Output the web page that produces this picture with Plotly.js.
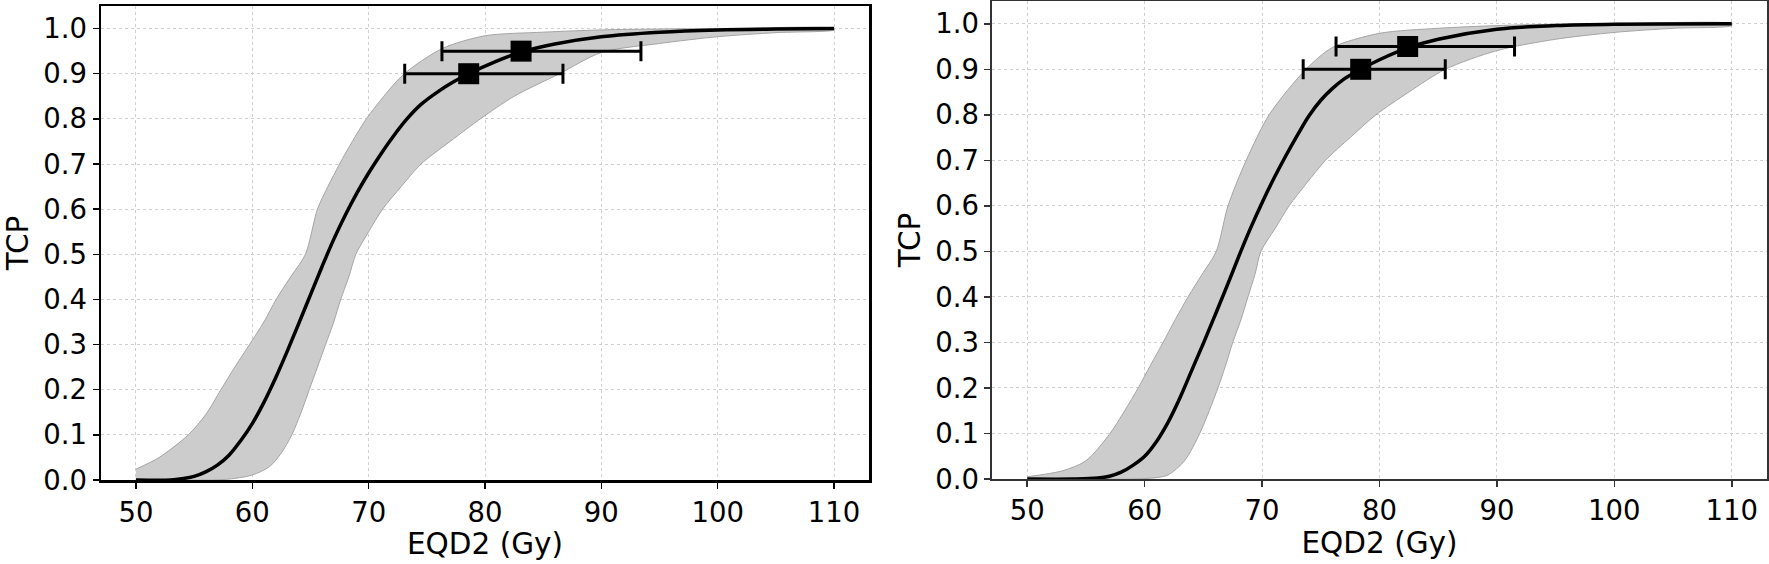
<!DOCTYPE html>
<html>
<head>
<meta charset="utf-8">
<script src="https://cdn.plot.ly/plotly-3.0.1.min.js"></script>
<style>html,body{margin:0;padding:0;background:#fff;}#chart{width:1769px;height:564px;}</style>
</head>
<body>
<div id="chart"></div>
<script>
// ---------- Left panel data ----------
const leftCurveX = [50, 53, 54, 55, 56, 57, 58, 59, 60, 61, 62, 63, 64, 65, 66, 67, 68, 69, 70, 71, 72, 73.2, 74.5, 76, 77.3, 78.6, 81, 83.1, 86, 90, 95, 100, 105, 110];
const leftCurveY = [0, 0, 0.003, 0.008, 0.018, 0.033, 0.055, 0.087, 0.125, 0.172, 0.226, 0.285, 0.347, 0.41, 0.473, 0.533, 0.587, 0.636, 0.68, 0.72, 0.757, 0.797, 0.832, 0.861, 0.882, 0.9, 0.928, 0.948, 0.966, 0.982, 0.992, 0.997, 0.999, 1.0];
const leftUpperX = [50, 52, 54.5, 56, 57.3, 58.5, 59.76, 61, 62.05, 63.3, 64.57, 65.6, 66.5, 67.5, 68.6, 69.8, 71.3, 73.06, 76.35, 80, 85, 90, 95, 100, 110];
const leftUpperY = [0.024, 0.05, 0.1, 0.145, 0.2, 0.25, 0.3, 0.35, 0.4, 0.45, 0.5, 0.6, 0.65, 0.7, 0.75, 0.8, 0.85, 0.9, 0.956, 0.984, 0.992, 0.997, 0.999, 1.0, 1.0];
const leftLowerX = [50, 56, 58, 60, 61.5, 62.5, 63.4, 64.2, 64.9, 65.6, 66.3, 67, 67.6, 68.3, 68.9, 70, 71.2, 72.8, 74.5, 77, 79.6, 82.5, 86.4, 90, 95, 100, 105, 110];
const leftLowerY = [0, 0, 0.002, 0.011, 0.03, 0.06, 0.1, 0.15, 0.2, 0.25, 0.3, 0.35, 0.4, 0.45, 0.5, 0.55, 0.6, 0.65, 0.7, 0.75, 0.8, 0.85, 0.9, 0.947, 0.967, 0.982, 0.991, 0.997];
const leftPointX = [78.6, 83.1];
const leftPointY = [0.9, 0.95];
const leftPointLow = [73.1, 76.3];
const leftPointHigh = [86.7, 93.4];

// ---------- Right panel data ----------
const rightCurveX = [50, 54, 56, 57, 58, 59, 60, 61, 62, 63, 64, 65, 66, 67, 68, 69, 70, 71, 72, 73, 74, 75, 76, 77, 78.4, 80, 82.4, 85, 90, 95, 100, 110];
const rightCurveY = [0, 0, 0.002, 0.006, 0.015, 0.03, 0.05, 0.082, 0.125, 0.178, 0.238, 0.298, 0.36, 0.423, 0.488, 0.55, 0.607, 0.66, 0.709, 0.755, 0.798, 0.832, 0.858, 0.879, 0.9, 0.921, 0.947, 0.966, 0.988, 0.996, 0.999, 1.0];
const rightUpperX = [50, 53, 55, 57.05, 58.3, 59.45, 60.5, 61.57, 62.6, 63.7, 64.9, 66.1, 67.1, 68.65, 70.6, 73.74, 76, 80, 85, 90, 95, 100, 110];
const rightUpperY = [0.005, 0.018, 0.04, 0.1, 0.15, 0.2, 0.25, 0.3, 0.35, 0.4, 0.45, 0.5, 0.6, 0.7, 0.8, 0.9, 0.948, 0.979, 0.99, 0.996, 0.999, 1.0, 1.0];
const rightLowerX = [50, 59, 61, 62, 63.4, 64.69, 65.5, 66.24, 66.9, 67.5, 68.2, 68.8, 69.4, 69.9, 71.1, 72.3, 73.8, 75.4, 77.5, 79.7, 82.5, 85.6, 90, 95, 100, 105, 110];
const rightLowerY = [0, 0, 0.003, 0.009, 0.04, 0.1, 0.15, 0.2, 0.25, 0.3, 0.35, 0.4, 0.45, 0.5, 0.55, 0.6, 0.65, 0.7, 0.75, 0.8, 0.85, 0.9, 0.941, 0.966, 0.981, 0.99, 0.996];
const rightPointX = [78.4, 82.4];
const rightPointY = [0.9, 0.95];
const rightPointLow = [73.5, 76.3];
const rightPointHigh = [85.6, 91.5];

// ---------- Axis ticks ----------
const xTicks = [50, 60, 70, 80, 90, 100, 110];
const yTicks = [0, 0.1, 0.2, 0.3, 0.4, 0.5, 0.6, 0.7, 0.8, 0.9, 1.0];
const xTitle = 'EQD2 (Gy)';
const yTitle = 'TCP';

const FONT = 'DejaVu Sans, sans-serif';

function panelTraces(cx, cy, ux, uy, lx, ly, px, py, plo, phi, xa, ya) {
  const bandX = ux.concat(lx.slice().reverse());
  const bandY = uy.concat(ly.slice().reverse());
  return [
    {x: bandX, y: bandY, xaxis: xa, yaxis: ya, type: 'scatter', mode: 'lines', fill: 'toself',
     fillcolor: 'rgb(204,204,204)', line: {color: 'rgb(165,165,165)', width: 1, shape: 'spline', smoothing: 0.8},
     hoverinfo: 'skip', showlegend: false},
    {x: cx, y: cy, xaxis: xa, yaxis: ya, type: 'scatter', mode: 'lines',
     line: {color: '#000', width: 3.5, shape: 'spline', smoothing: 1}, showlegend: false},
    {x: px, y: py, xaxis: xa, yaxis: ya, type: 'scatter', mode: 'markers',
     marker: {symbol: 'square', size: 21, color: '#000'},
     error_x: {type: 'data', symmetric: false,
       array: phi.map((h, i) => h - px[i]), arrayminus: plo.map((l, i) => px[i] - l),
       color: '#000', thickness: 3, width: 10},
     showlegend: false}
  ];
}

const data = [].concat(
  panelTraces(leftCurveX, leftCurveY, leftUpperX, leftUpperY, leftLowerX, leftLowerY,
              leftPointX, leftPointY, leftPointLow, leftPointHigh, 'x', 'y'),
  panelTraces(rightCurveX, rightCurveY, rightUpperX, rightUpperY, rightLowerX, rightLowerY,
              rightPointX, rightPointY, rightPointLow, rightPointHigh, 'x2', 'y2')
);

function xAxis(domain, anchor, lineColor, lineWidth) {
  return {
    domain: domain, anchor: anchor, range: [47, 113], tickvals: xTicks,
    showgrid: true, gridcolor: 'rgb(208,208,208)', gridwidth: 1, griddash: 'dot',
    showline: true, linecolor: lineColor, linewidth: lineWidth, mirror: true,
    ticks: 'outside', ticklen: 6, tickwidth: 1.5, tickcolor: lineColor,
    tickfont: {family: FONT, size: 27.5, color: '#000'},
    zeroline: false, automargin: false,
    title: {text: xTitle, font: {family: FONT, size: 29.5, color: '#000'}, standoff: 4}
  };
}
function yAxis(domain, anchor, lineColor, lineWidth) {
  return {
    domain: domain, anchor: anchor, range: [0, 1.05], tickvals: yTicks, tickformat: '.1f',
    showgrid: true, gridcolor: 'rgb(208,208,208)', gridwidth: 1, griddash: 'dot',
    showline: true, linecolor: lineColor, linewidth: lineWidth, mirror: true,
    ticks: 'outside', ticklen: 6, tickwidth: 1.5, tickcolor: lineColor,
    tickfont: {family: FONT, size: 27.5, color: '#000'},
    zeroline: false, automargin: false,
    title: {text: yTitle, font: {family: FONT, size: 29.5, color: '#000'}, standoff: 6}
  };
}

const layout = {
  width: 1769, height: 564,
  margin: {l: 0, r: 0, t: 0, b: 0},
  paper_bgcolor: '#fff', plot_bgcolor: '#fff',
  showlegend: false,
  font: {family: FONT, color: '#000'},
  xaxis: xAxis([101 / 1769, 869 / 1769], 'y', '#000', 2.5),
  yaxis: yAxis([84 / 564, 558 / 564], 'x', '#000', 2.5),
  xaxis2: xAxis([992 / 1769, 1767 / 1769], 'y2', '#333', 1.6),
  yaxis2: yAxis([85 / 564, 563 / 564], 'x2', '#333', 1.6)
};

Plotly.newPlot('chart', data, layout, {displayModeBar: false, staticPlot: true});
</script>
</body>
</html>
